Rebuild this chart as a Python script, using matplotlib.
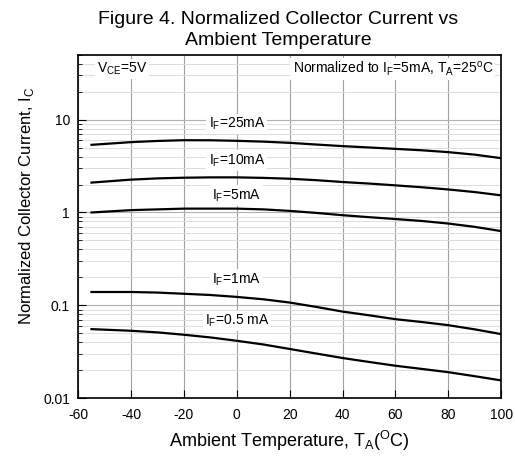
import numpy as np
import matplotlib
matplotlib.use('Agg')
import matplotlib.pyplot as plt
from matplotlib.ticker import LogLocator, NullFormatter, FixedLocator

plt.rcParams['font.family'] = ['Liberation Sans', 'DejaVu Sans']
plt.rcParams['mathtext.fontset'] = 'custom'
plt.rcParams['mathtext.rm'] = 'Liberation Sans'
plt.rcParams['axes.unicode_minus'] = False

# temperatura ambiente (C)
temp = [-55, -40, -30, -20, -10, 0, 10, 20, 30, 40, 50, 60, 70, 80, 90, 100]

# corriente normalizada por cada IF
ic_25ma = [5.36, 5.73, 5.9, 6.01, 6.0, 5.92, 5.8, 5.63, 5.4, 5.19, 5.02, 4.85, 4.68, 4.47, 4.2, 3.85]
ic_10ma = [2.10, 2.26, 2.33, 2.37, 2.39, 2.39, 2.36, 2.31, 2.23, 2.13, 2.05, 1.96, 1.87, 1.77, 1.66, 1.53]
ic_5ma = [1.0, 1.06, 1.08, 1.10, 1.10, 1.10, 1.08, 1.04, 0.99, 0.935, 0.89, 0.85, 0.81, 0.76, 0.70, 0.63]
ic_1ma = [0.139, 0.139, 0.137, 0.133, 0.129, 0.123, 0.116, 0.107, 0.096, 0.0855, 0.078, 0.0708, 0.066,
          0.061, 0.055, 0.0489]
ic_05ma = [0.0553, 0.0531, 0.051, 0.0481, 0.045, 0.0414, 0.0378, 0.0338, 0.0302, 0.027, 0.0245, 0.0223,
           0.0206, 0.019, 0.0172, 0.0155]

curvas = [ic_25ma, ic_10ma, ic_5ma, ic_1ma, ic_05ma]
etiquetas = ['I$_\\mathregular{F}$=25mA', 'I$_\\mathregular{F}$=10mA', 'I$_\\mathregular{F}$=5mA',
             'I$_\\mathregular{F}$=1mA', 'I$_\\mathregular{F}$=0.5 mA']
pos_etiquetas = [9.0, 3.63, 1.53, 0.19, 0.068]

fig = plt.figure(figsize=(5.15, 4.57), dpi=100)
ax = fig.add_axes([0.152, 0.129, 0.821, 0.751])

for serie in curvas:
    ax.plot(temp, serie, color='black', lw=1.6, zorder=3)

for txt, yv in zip(etiquetas, pos_etiquetas):
    ax.text(0, yv, txt, ha='center', va='center', fontsize=10, zorder=4,
            bbox=dict(facecolor='white', edgecolor='none', pad=1.5))

ax.set_yscale('log')
ax.set_xlim(-60, 100)
ax.set_ylim(0.01, 50)
ax.xaxis.set_major_locator(FixedLocator(np.arange(-60, 101, 20)))
ax.yaxis.set_major_locator(FixedLocator([0.01, 0.1, 1, 10]))
ax.set_yticklabels(['0.01', '0.1', '1', '10'])
ax.yaxis.set_minor_locator(LogLocator(base=10, subs=np.arange(2, 10)))
ax.yaxis.set_minor_formatter(NullFormatter())

ax.grid(True, which='major', axis='x', color='#a0a0a0', lw=0.8)
ax.grid(True, which='major', axis='y', color='#b0b0b0', lw=0.8)
ax.grid(True, which='minor', axis='y', color='#dddddd', lw=0.7)
ax.set_axisbelow(True)

ax.tick_params(which='both', direction='in', labelsize=10)
ax.tick_params(axis='x', pad=7)
ax.tick_params(axis='y', pad=6)
ax.tick_params(which='major', length=6)
ax.tick_params(which='minor', length=3)
for s in ax.spines.values():
    s.set_linewidth(1.2)

ax.text(-53, 35, 'V$_\\mathregular{CE}$=5V', fontsize=10, va='center',
        bbox=dict(facecolor='white', edgecolor='none', pad=1.5))
ax.text(97, 35, 'Normalized to I$_\\mathregular{F}$=5mA, T$_\\mathregular{A}$=25$^\\mathregular{o}$C',
        fontsize=10, va='center', ha='right',
        bbox=dict(facecolor='white', edgecolor='none', pad=1.5))

ax.set_xlabel('Ambient Temperature, T$_\\mathregular{A}$($^\\mathregular{O}$C)', fontsize=13, labelpad=5)
ax.set_ylabel('Normalized Collector Current, I$_\\mathregular{C}$', fontsize=12, labelpad=5)
ax.yaxis.set_label_coords(-0.1, 0.56)
fig.suptitle('Figure 4. Normalized Collector Current vs\nAmbient Temperature', fontsize=14,
             x=0.54, y=0.975, linespacing=1.3)

plt.savefig('out.png', dpi=100)
